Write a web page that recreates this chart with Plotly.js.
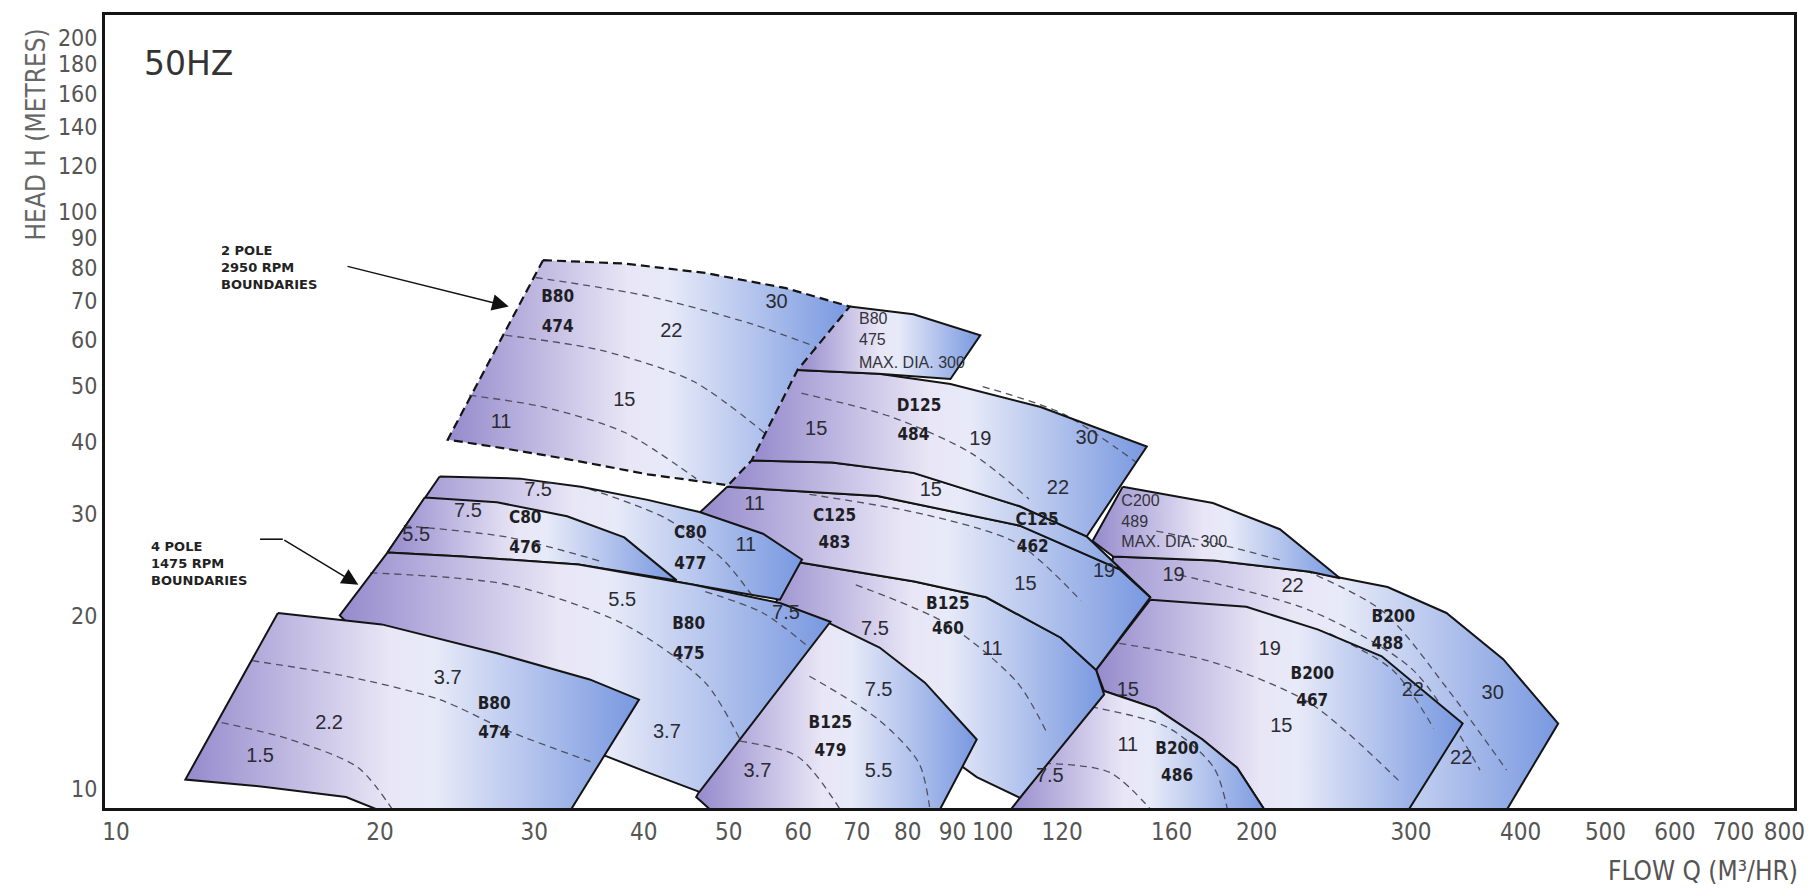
<!DOCTYPE html>
<html><head><meta charset="utf-8">
<script src="https://cdn.plot.ly/plotly-3.0.1.min.js"></script>
<style>html,body{margin:0;padding:0;background:#fff}</style>
</head><body>
<div id="chart" style="width:1813px;height:888px"></div>
<script>
// ---------- axis ticks ----------
const X_TICKS = [10,20,30,40,50,60,70,80,90,100,120,160,200,300,400,500,600,700,800];
const Y_TICKS = [10,20,30,40,50,60,70,80,90,100,120,140,160,180,200];

// ---------- pump regions (flow Q m3/hr, head H m) ----------
// 2 pole B80 474 (dashed boundary)
const B80_474_2P_Q = [30.7, 38.0, 47.0, 58.1, 68.7, 59.9, 53.1, 49.9, 40.4, 32.7, 27.2, 23.9];
const B80_474_2P_H = [82.4, 81.3, 78.3, 73.7, 68.5, 53.2, 37.1, 33.6, 35.1, 37.3, 39.1, 40.3];
const B80_474_2P_D1Q = [30.1, 40.4, 53.1, 62.9], B80_474_2P_D1H = [76.9, 71.4, 63.9, 58.3];
const B80_474_2P_D2Q = [27.8, 35.8, 45.6, 55.0], B80_474_2P_D2H = [61.1, 57.5, 50.8, 41.3];
const B80_474_2P_D3Q = [25.3, 30.7, 38.0, 45.9], B80_474_2P_D3H = [48.1, 45.9, 41.5, 34.5];
// 2 pole B80 475
const B80_475_2P_Q = [68.7, 81.2, 96.8, 89.5, 74.1, 59.9];
const B80_475_2P_H = [68.5, 66.4, 61.1, 51.3, 52.4, 53.2];
// D125 484
const D125_484_Q = [59.9, 74.1, 89.5, 113.4, 149.9, 128.0, 107.4, 81.2, 65.6, 53.1];
const D125_484_H = [53.2, 52.4, 50.3, 45.9, 39.2, 27.4, 30.9, 35.3, 36.8, 37.1];
const D125_484_D1Q = [60.5, 76.4, 94.5, 110.0], D125_484_D1H = [48.5, 44.2, 38.2, 31.8];
const D125_484_D2Q = [97.4, 120.5, 145.9], D125_484_D2H = [49.8, 44.6, 36.8];
// C125 462
const C125_462_Q = [53.1, 65.6, 81.2, 107.4, 128.0, 151.3, 139.8, 107.4, 73.9, 49.8];
const C125_462_H = [37.1, 36.8, 35.3, 30.9, 27.4, 21.5, 24.0, 28.6, 32.2, 33.4];
// C125 483
const C125_483_Q = [46.4, 49.8, 73.9, 107.4, 139.8, 151.3, 131.2, 119.6, 98.3, 81.4, 60.3];
const C125_483_H = [30.2, 33.4, 32.2, 28.6, 24.0, 21.5, 16.1, 18.3, 21.5, 22.9, 24.7];
const C125_483_D1Q = [61.8, 83.7, 106.7, 126.1], C125_483_D1H = [32.4, 29.9, 26.65, 21.2];
// B125 460
const B125_460_Q = [60.3, 81.4, 98.3, 119.6, 131.2, 134.0, 107.4, 95.9, 83.7, 71.9, 61.8, 53.9, 56.7];
const B125_460_H = [24.7, 22.9, 21.5, 18.3, 16.1, 14.6, 9.67, 10.5, 12.2, 14.0, 15.3, 16.05, 21.2];
const B125_460_D1Q = [69.8, 88.9, 106.7, 115.1], B125_460_D1H = [22.6, 19.3, 15.3, 12.6];
// B125 479
const B125_479_Q = [59.9, 65.1, 74.3, 83.7, 95.9, 86.3, 48.5, 45.9];
const B125_479_H = [20.2, 19.4, 17.6, 15.3, 12.2, 9.0, 9.0, 9.7];
const B125_479_D1Q = [61.8, 74.1, 82.4, 85.0], B125_479_D1H = [15.7, 13.2, 11.1, 9.0];
const B125_479_D2Q = [49.9, 59.9, 67.7], B125_479_D2H = [12.2, 11.4, 9.0];
// B200 486
const B200_486_Q = [134.0, 153.7, 173.5, 190.0, 206.3, 103.5];
const B200_486_H = [14.8, 13.8, 12.2, 10.9, 9.0, 9.0];
const B200_486_D1Q = [114.4, 136.0, 153.7], B200_486_D1H = [11.1, 10.7, 9.0];
const B200_486_D2Q = [129.4, 158.4, 178.8, 185.9], B200_486_D2H = [13.9, 12.8, 10.9, 9.0];
// B200 467
const B200_467_Q = [151.3, 194.7, 235.1, 277.8, 343.6, 295.2, 206.3, 190.0, 173.5, 153.7, 134.0, 131.2];
const B200_467_H = [21.3, 20.7, 18.9, 17.0, 13.0, 9.0, 9.0, 10.9, 12.2, 13.8, 14.8, 16.1];
const B200_467_D1Q = [139.4, 178.3, 230.1, 291.6], B200_467_D1H = [17.9, 16.6, 14.1, 10.3];
const B200_467_D2Q = [242.3, 286.4, 318.5], B200_467_D2H = [18.6, 16.05, 12.75];
// B200 488
const B200_488_Q = [137.2, 178.8, 230.1, 282.1, 329.3, 382.2, 441.6, 382.2, 124.2, 131.2];
const B200_488_H = [25.3, 24.9, 23.8, 22.4, 20.2, 16.8, 13.0, 9.0, 9.0, 16.1];
const B200_488_D1Q = [163.3, 230.1, 301.5, 359.6], B200_488_D1H = [23.5, 20.4, 16.1, 10.8];
const B200_488_D2Q = [214.6, 277.8, 329.3, 385.6], B200_488_D2H = [24.85, 20.4, 15.0, 10.8];
// C200 489
const C200_489_Q = [140.7, 178.3, 212.6, 249.0, 230.1, 178.8, 137.2, 130.0];
const C200_489_H = [33.4, 31.3, 28.2, 23.2, 23.8, 24.9, 25.3, 26.9];
const C200_489_D1Q = [153.7, 184.3, 214.6], C200_489_D1H = [28.0, 26.4, 24.85];
// C80 477
const C80_477_Q = [23.4, 28.9, 33.9, 40.4, 46.3, 54.7, 60.6, 57.2, 45.6, 33.7, 24.85, 20.4];
const C80_477_H = [34.8, 34.5, 33.4, 31.7, 30.2, 27.7, 25.0, 21.3, 22.6, 24.5, 25.3, 25.7];
const C80_477_D1Q = [34.7, 42.3, 49.1, 53.1], C80_477_D1H = [33.1, 29.5, 25.1, 21.7];
// C80 476
const C80_476_Q = [22.5, 27.2, 32.7, 38.0, 43.6, 33.7, 24.85, 20.4];
const C80_476_H = [32.0, 31.4, 29.7, 27.3, 23.0, 24.5, 25.3, 25.7];
const C80_476_D1Q = [21.3, 28.05, 35.8], C80_476_D1H = [28.6, 27.3, 24.8];
// 4 pole B80 475
const B80_475_Q = [20.4, 24.85, 33.7, 45.6, 57.3, 65.3, 46.3, 40.4, 35.8, 26.4, 18.9, 18.0];
const B80_475_H = [25.7, 25.3, 24.5, 22.6, 21.0, 19.5, 9.9, 10.7, 11.5, 14.6, 18.6, 20.0];
const B80_475_D1Q = [47.0, 54.7, 61.8], B80_475_D1H = [22.0, 20.2, 17.6];
const B80_475_D2Q = [19.5, 28.05, 38.0, 47.0, 51.5], B80_475_D2H = [23.7, 22.6, 19.3, 15.3, 12.2];
// 4 pole B80 474
const B80_474_Q = [15.3, 20.1, 27.2, 34.7, 39.5, 32.7, 20.7, 18.3, 14.8, 12.0];
const B80_474_H = [20.2, 19.3, 17.2, 15.5, 14.3, 9.0, 9.0, 9.7, 10.1, 10.4];
const B80_474_D1Q = [14.3, 18.3, 23.4, 28.1, 35.2], B80_474_D1H = [16.7, 15.7, 14.3, 12.6, 11.1];
const B80_474_D2Q = [13.2, 15.8, 18.9, 20.9], B80_474_D2H = [13.05, 12.2, 10.9, 9.0];

// ---------- labels ----------
const NUM_TEXT = ['22','30','15','11', '15','19','30','22', '15', '11','15','19', '7.5','11', '7.5','5.5','3.7', '15','11','7.5', '19','15','22', '19','22','30','22', '7.5','11', '7.5','5.5', '5.5','7.5','3.7', '3.7','2.2','1.5'];
const NUM_Q = [43.0,56.7,38.0,27.5, 62.9,96.8,128.0,118.7, 85.0, 53.5,109.0,134.0, 73.4,99.9, 74.1,74.1,53.9, 142.6,142.6,116.2, 207.0,213.4,301.5, 160.8,219.8,371.8,342.3, 30.3,52.3, 25.2,22.0, 37.8,58.1,42.5, 23.9,17.5,14.6];
const NUM_H = [61.9,69.5,47.1,43.0, 41.9,40.2,40.35,33.1, 32.9, 31.1,22.6,23.8, 18.9,17.4, 14.8,10.7,10.7, 14.8,11.9,10.5, 17.4,12.8,14.8, 23.4,22.4,14.6,11.3, 32.8,26.4, 30.2,27.5, 21.2,20.1,12.5, 15.5,13.0,11.4];
const MODEL_TEXT = ['B80','474','D125','484','C125','462','C125','483','B125','460','B125','479','B200','486','B200','467','B200','488','C80','477','C80','476','B80','475','B80','474'];
const MODEL_Q = [31.9,31.9, 82.4,81.2, 112.4,111.1, 66.0,66.0, 88.9,88.9, 65.3,65.3, 162.3,162.3, 231.5,231.5, 286.4,282.1, 45.2,45.2, 29.3,29.3, 45.0,45.0, 27.0,27.0];
const MODEL_H = [70.8,63.0, 45.9,40.9, 29.2,26.2, 29.6,26.6, 20.9,18.9, 13.0,11.6, 11.7,10.5, 15.8,14.2, 19.8,17.8, 27.7,24.5, 29.4,26.1, 19.3,17.1, 14.0,12.5];
const NOTE_TEXT = ['B80','475','MAX. DIA. 300','C200','489','MAX. DIA. 300'];
const NOTE_Q = [70.4,70.4,70.4, 140.2,140.2,140.2];
const NOTE_H = [65.0,59.7,54.4, 31.4,28.9,26.7];

// arrows & captions
const ARROW_2P_Q = [18.3, 28.05], ARROW_2P_H = [80.5, 68.5];
const ARROW_4P_Q = [14.6, 15.5, 18.9], ARROW_4P_H = [27.1, 27.1, 22.6];
const CAPTION_2P = {q: 13.1, h: 80.1, text: '2 POLE<br>2950 RPM<br>BOUNDARIES'};
const CAPTION_4P = {q: 10.9, h: 24.6, text: '4 POLE<br>1475 RPM<br>BOUNDARIES'};
const TITLE_50HZ = {q: 10.71, h: 180.4, text: '50HZ'};

// ---------- drawing ----------
const GRAD = [[0,'#958acc'],[0.45,'#e9e6f6'],[0.55,'#e7eaf8'],[1,'#7898e0']];
const traces = [];
const base = {type:'scatter', hoverinfo:'skip', showlegend:false};

function addPatch(q, h, dashes, opt) {
  opt = opt || {};
  traces.push(Object.assign({}, base, {
    x: q.concat([q[0]]), y: h.concat([h[0]]), mode: 'lines', fill: 'toself',
    fillgradient: {type: 'horizontal', colorscale: GRAD},
    line: {width: 0, color: 'rgba(0,0,0,0)'}
  }));
  dashes.forEach(function(d) {
    traces.push(Object.assign({}, base, {
      x: d[0], y: d[1], mode: 'lines',
      line: {color: '#50505e', width: 1.3, dash: '7px,5px', shape: 'spline', smoothing: 0.8}
    }));
  });
  let ox, oy;
  if (opt.open) { ox = q.slice(opt.open[0], opt.open[1] + 1); oy = h.slice(opt.open[0], opt.open[1] + 1); }
  else { ox = q.concat([q[0]]); oy = h.concat([h[0]]); }
  traces.push(Object.assign({}, base, {
    x: ox, y: oy, mode: 'lines',
    line: {color: '#141414', width: opt.width || 2, dash: opt.dash || 'solid'}
  }));
}

addPatch(B200_488_Q, B200_488_H, [[B200_488_D1Q, B200_488_D1H], [B200_488_D2Q, B200_488_D2H]]);
addPatch(C200_489_Q, C200_489_H, [[C200_489_D1Q, C200_489_D1H]]);
addPatch(B200_467_Q, B200_467_H, [[B200_467_D1Q, B200_467_D1H], [B200_467_D2Q, B200_467_D2H]]);
addPatch(B200_486_Q, B200_486_H, [[B200_486_D1Q, B200_486_D1H], [B200_486_D2Q, B200_486_D2H]]);
addPatch(B125_460_Q, B125_460_H, [[B125_460_D1Q, B125_460_D1H]]);
addPatch(B125_479_Q, B125_479_H, [[B125_479_D1Q, B125_479_D1H], [B125_479_D2Q, B125_479_D2H]]);
addPatch(C125_483_Q, C125_483_H, [[C125_483_D1Q, C125_483_D1H]]);
addPatch(C125_462_Q, C125_462_H, [], {open: [0, C125_462_Q.length - 1]});
addPatch(D125_484_Q, D125_484_H, [[D125_484_D1Q, D125_484_D1H], [D125_484_D2Q, D125_484_D2H]], {open: [0, D125_484_Q.length - 1]});
addPatch(B80_475_2P_Q, B80_475_2P_H, [], {open: [0, B80_475_2P_Q.length - 1]});
addPatch(B80_474_2P_Q, B80_474_2P_H, [[B80_474_2P_D1Q, B80_474_2P_D1H], [B80_474_2P_D2Q, B80_474_2P_D2H], [B80_474_2P_D3Q, B80_474_2P_D3H]], {dash: '9px,5px', width: 2.2});
addPatch(C80_477_Q, C80_477_H, [[C80_477_D1Q, C80_477_D1H]]);
addPatch(C80_476_Q, C80_476_H, [[C80_476_D1Q, C80_476_D1H]]);
addPatch(B80_475_Q, B80_475_H, [[B80_475_D1Q, B80_475_D1H], [B80_475_D2Q, B80_475_D2H]]);
addPatch(B80_474_Q, B80_474_H, [[B80_474_D1Q, B80_474_D1H], [B80_474_D2Q, B80_474_D2H]]);

// 4 pole pointer leg
traces.push(Object.assign({}, base, {x: ARROW_4P_Q.slice(0, 2), y: ARROW_4P_H.slice(0, 2), mode: 'lines', line: {color: '#111', width: 1.6}}));

// labels
traces.push(Object.assign({}, base, {x: NUM_Q, y: NUM_H, text: NUM_TEXT, mode: 'text', textposition: 'middle center',
  textfont: {family: 'Liberation Sans, Arial, sans-serif', size: 20, color: '#2b2b33'}}));
traces.push(Object.assign({}, base, {x: MODEL_Q, y: MODEL_H, text: MODEL_TEXT, mode: 'text', textposition: 'middle center',
  textfont: {family: 'Liberation Sans Narrow, DejaVu Sans Condensed, sans-serif', size: 17, color: '#1e1e24', weight: 'bold'}}));
traces.push(Object.assign({}, base, {x: NOTE_Q, y: NOTE_H, text: NOTE_TEXT, mode: 'text', textposition: 'middle right',
  textfont: {family: 'Liberation Sans, Arial, sans-serif', size: 16, color: '#33333a'}}));

const L = Math.log10;
const layout = {
  width: 1813, height: 888,
  margin: {l: 105, r: 19, t: 15, b: 80},
  paper_bgcolor: '#ffffff', plot_bgcolor: '#ffffff',
  showlegend: false,
  xaxis: {type: 'log', range: [0.9875, 2.914], tickmode: 'array', tickvals: X_TICKS, ticktext: X_TICKS.map(String),
    showgrid: false, zeroline: false, showline: true, mirror: true, linecolor: '#151515', linewidth: 3, ticks: '',
    tickfont: {family: 'Liberation Sans Narrow, DejaVu Sans Condensed, sans-serif', size: 24, color: '#555'}},
  yaxis: {type: 'log', range: [0.9678, 2.3402], tickmode: 'array', tickvals: Y_TICKS, ticktext: Y_TICKS.map(String),
    showgrid: false, zeroline: false, showline: true, mirror: true, linecolor: '#151515', linewidth: 3, ticks: '',
    tickfont: {family: 'Liberation Sans Narrow, DejaVu Sans Condensed, sans-serif', size: 23, color: '#555'}},
  annotations: [
    {xref: 'x', yref: 'y', x: L(ARROW_2P_Q[1]), y: L(ARROW_2P_H[1]), axref: 'x', ayref: 'y',
      ax: L(ARROW_2P_Q[0]), ay: L(ARROW_2P_H[0]), text: '', showarrow: true, arrowhead: 2, arrowsize: 2.2, arrowwidth: 1.5, arrowcolor: '#111'},
    {xref: 'x', yref: 'y', x: L(ARROW_4P_Q[2]), y: L(ARROW_4P_H[2]), axref: 'x', ayref: 'y',
      ax: L(ARROW_4P_Q[1]), ay: L(ARROW_4P_H[1]), text: '', showarrow: true, arrowhead: 2, arrowsize: 2.2, arrowwidth: 1.5, arrowcolor: '#111'},
    {xref: 'x', yref: 'y', x: L(CAPTION_2P.q), y: L(CAPTION_2P.h), text: CAPTION_2P.text, showarrow: false,
      xanchor: 'left', yanchor: 'middle', align: 'left', font: {family: 'DejaVu Sans, sans-serif', size: 13, color: '#222', weight: 'bold'}},
    {xref: 'x', yref: 'y', x: L(CAPTION_4P.q), y: L(CAPTION_4P.h), text: CAPTION_4P.text, showarrow: false,
      xanchor: 'left', yanchor: 'middle', align: 'left', font: {family: 'DejaVu Sans, sans-serif', size: 13, color: '#222', weight: 'bold'}},
    {xref: 'x', yref: 'y', x: L(TITLE_50HZ.q), y: L(TITLE_50HZ.h), text: TITLE_50HZ.text, showarrow: false,
      xanchor: 'left', yanchor: 'middle', font: {family: 'DejaVu Sans, sans-serif', size: 33, color: '#333'}},
    {xref: 'paper', yref: 'paper', x: -0.041, y: 0.849, text: 'HEAD H (METRES)', textangle: -90, showarrow: false,
      xanchor: 'center', yanchor: 'middle', font: {family: 'Liberation Sans Narrow, DejaVu Sans Condensed, sans-serif', size: 26, color: '#666'}},
    {xref: 'paper', yref: 'paper', x: 1.0036, y: -0.079, text: 'FLOW Q (M\u00b3/HR)', showarrow: false,
      xanchor: 'right', yanchor: 'middle', font: {family: 'Liberation Sans Narrow, DejaVu Sans Condensed, sans-serif', size: 26, color: '#555'}}
  ]
};

Plotly.newPlot('chart', traces, layout, {staticPlot: true, displayModeBar: false});
</script>
</body></html>
